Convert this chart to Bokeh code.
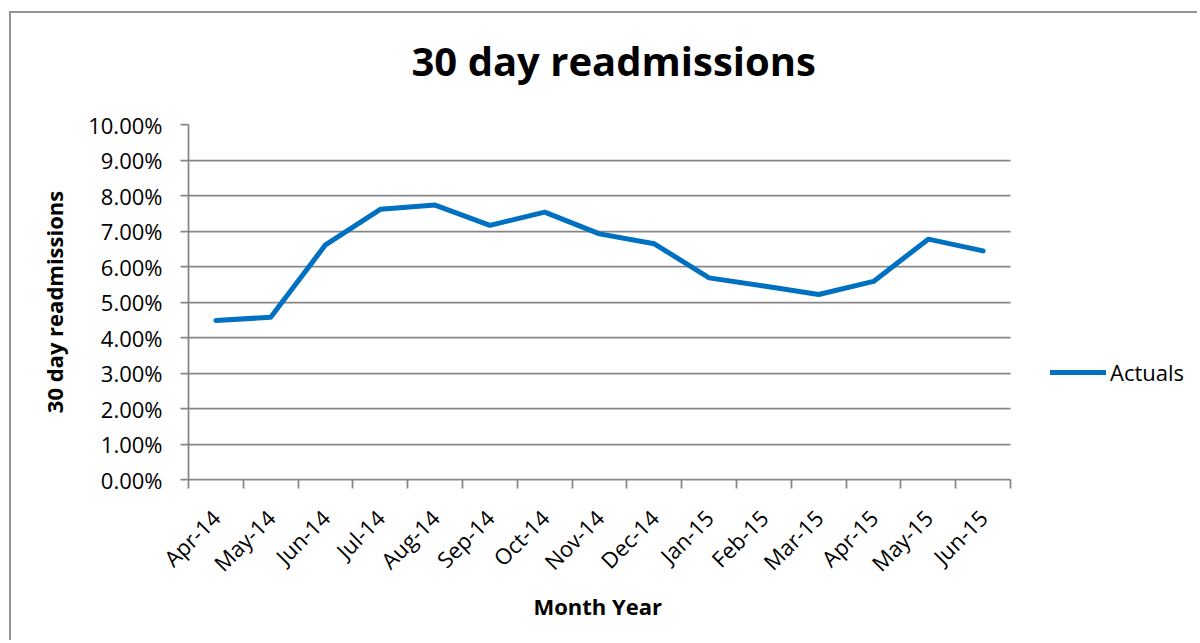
from bokeh.plotting import figure
from bokeh.models import (NumeralTickFormatter, FixedTicker, Legend, LegendItem, ColumnDataSource, Title)
from bokeh.embed import file_html
from bokeh.resources import INLINE
import math

months = ["Apr-14", "May-14", "Jun-14", "Jul-14", "Aug-14", "Sep-14", "Oct-14", "Nov-14",
          "Dec-14", "Jan-15", "Feb-15", "Mar-15", "Apr-15", "May-15", "Jun-15"]
actuals = [0.0448, 0.0457, 0.0661, 0.0761, 0.0773, 0.0716, 0.0753, 0.0692,
           0.0664, 0.0568, 0.0545, 0.0521, 0.0558, 0.0677, 0.0644]
y_ticks = [0.0, 0.01, 0.02, 0.03, 0.04, 0.05, 0.06, 0.07, 0.08, 0.09, 0.10]

idx = list(range(len(months)))
src = ColumnDataSource(dict(x=idx, y=actuals, month=months))

FONT = "Open Sans"
GRAY = "#868686"
FRAME_GRAY = "#939393"

# layout: the plot area is 822px wide; the frame extends to the right edge so the
# legend (drawn inside the frame) is not clipped
W, H = 1188, 654
LEFT, TOP, BOTTOM = 179, 138, 161
PLOT_PX = 822
FRAME_PX = W - LEFT
x_start = -0.5
x_plot_end = len(months) - 0.5
x_end = x_start + (x_plot_end - x_start) * FRAME_PX / PLOT_PX

p = figure(width=W, height=H, output_backend="svg", toolbar_location=None,
           x_range=(x_start, x_end), y_range=(0, 0.10),
           min_border_left=LEFT, min_border_right=0, min_border_top=TOP, min_border_bottom=BOTTOM)
# chart-area frame (top and left edges visible; the rest lies beyond the window)
p.border_fill_alpha = 0
p.styles = {
    "margin-left": "9px",
    "margin-top": "-14px",
    "background": (f"linear-gradient({FRAME_GRAY},{FRAME_GRAY}) 0px 25px / 100% 2px no-repeat, "
                   f"linear-gradient({FRAME_GRAY},{FRAME_GRAY}) 0px 25px / 2px 100% no-repeat, #ffffff"),
}
p.outline_line_color = None

p.title.text = "30 day readmissions"
p.title.text_font = FONT
p.title.text_font_size = "40px"
p.title.text_font_style = "bold"
p.title.text_color = "black"
p.title.align = "left"
p.title.offset = 223
p.title.standoff = 73

# grid (limited to the plot area)
p.xgrid.grid_line_color = None
p.ygrid.ticker = FixedTicker(ticks=y_ticks)
try:
    p.ygrid.cross_bounds = (x_start, x_plot_end)
    p.ygrid.grid_line_color = GRAY
    p.ygrid.grid_line_width = 1.75
except Exception:
    p.ygrid.grid_line_color = None
    p.segment(x0=[x_start] * len(y_ticks), x1=[x_plot_end] * len(y_ticks), y0=y_ticks, y1=y_ticks,
              line_color=GRAY, line_width=1.75)

r = p.line("x", "y", source=src, line_color="#0070C0", line_width=5,
           line_cap="round", line_join="round")

# y axis
p.yaxis.ticker = FixedTicker(ticks=y_ticks)
p.yaxis.formatter = NumeralTickFormatter(format="0.00%")
p.yaxis.axis_line_color = GRAY
p.yaxis.axis_line_width = 1.75
p.yaxis.major_tick_line_color = GRAY
p.yaxis.major_tick_line_width = 1.75
p.yaxis.major_tick_out = 8
p.yaxis.major_tick_in = 0
p.yaxis.minor_tick_line_color = None
p.yaxis.major_label_text_font = FONT
p.yaxis.major_label_text_font_size = "22px"
p.yaxis.major_label_text_color = "black"
p.yaxis.major_label_standoff = 18
p.yaxis.axis_label = "30 day readmissions"
p.yaxis.axis_label_text_font = FONT
p.yaxis.axis_label_text_font_size = "22px"
p.yaxis.axis_label_text_font_style = "bold"
p.yaxis.axis_label_text_color = "black"
p.yaxis.axis_label_standoff = 16

# x axis: labels at category centres, tick marks at category boundaries
p.xaxis.bounds = (x_start, x_plot_end)
p.xaxis.ticker = FixedTicker(ticks=idx, minor_ticks=[i - 0.5 for i in range(len(months) + 1)])
p.xaxis.major_label_overrides = {i: m for i, m in zip(idx, months)}
p.xaxis.major_label_orientation = math.pi / 4
p.xaxis.major_tick_out = 0
p.xaxis.major_tick_in = 0
p.xaxis.major_tick_line_color = None
p.xaxis.minor_tick_out = 9
p.xaxis.minor_tick_in = 0
p.xaxis.minor_tick_line_color = GRAY
p.xaxis.minor_tick_line_width = 1.75
p.xaxis.axis_line_color = GRAY
p.xaxis.axis_line_width = 1.75
p.xaxis.major_label_text_font = FONT
p.xaxis.major_label_text_font_size = "22px"
p.xaxis.major_label_text_color = "black"
p.xaxis.major_label_standoff = 25

# x axis title, centred under the plot area (not the extended frame)
x_title = Title(text="Month Year", text_font=FONT, text_font_size="22px", text_font_style="bold",
                text_color="black", align="left", offset=345, vertical_align="top", standoff=0)
p.add_layout(x_title, "below")

legend = Legend(items=[LegendItem(label="Actuals", renderers=[r])],
                location=(862, 92), padding=0, margin=0, spacing=0,
                glyph_width=56, glyph_height=22, label_height=22, label_standoff=4,
                border_line_color=None, background_fill_alpha=0,
                label_text_font=FONT, label_text_font_size="22px", label_text_color="black")
p.add_layout(legend, "center")

open("out.html", "w").write(file_html(p, INLINE))
